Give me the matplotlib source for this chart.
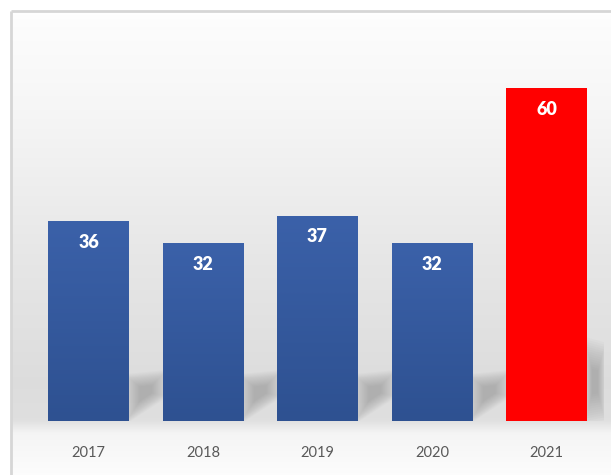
import numpy as np
import matplotlib
matplotlib.use("Agg")
import matplotlib.pyplot as plt
from matplotlib.patches import Polygon, Rectangle

# Data
years = ["2017", "2018", "2019", "2020", "2021"]
values = [36, 32, 37, 32, 60]
bar_colors = ["blue", "blue", "blue", "blue", "red"]

W, H = 611, 475
fig = plt.figure(figsize=(W / 100, H / 100), dpi=100)

# Background panel (pixel coordinates)
bg = fig.add_axes([0, 0, 1, 1])
bg.set_xlim(0, W)
bg.set_ylim(H, 0)
bg.axis("off")

ys = np.arange(H)
stops_y = [0, 10, 100, 250, 380, 418, 432, 475]
stops_v = [1.0, 0.99, 0.965, 0.905, 0.865, 0.875, 0.96, 0.99]
col = np.interp(ys, stops_y, stops_v)
grad = np.repeat(col[:, None], 2, axis=1)
bg.imshow(grad[:, :, None].repeat(3, axis=2), extent=[11, W, H, 11],
          aspect="auto", interpolation="bilinear", zorder=0)
bg.plot([11, 11], [H, 11], color="#d6d6d6", lw=2, zorder=1, solid_capstyle="butt")
bg.plot([11, W], [11, 11], color="#d6d6d6", lw=2, zorder=1, solid_capstyle="butt")

# Data axes
ax = fig.add_axes([31.25 / W, 54 / H, 572.5 / W, 388.5 / H])
ax.patch.set_alpha(0)
for s in ax.spines.values():
    s.set_visible(False)
ax.set_yticks([])
ax.set_xticks(range(len(years)))
ax.set_xticklabels(years, fontsize=10.5, color="#595959", family=["Lato", "DejaVu Sans"])
ax.tick_params(axis="x", length=0, pad=18)

bw = 0.707
x = np.arange(len(values))

# Soft shadows behind the bars
def soft_poly(pts, color, layers=14, alpha=0.04, spread=1.0):
    pts = np.array(pts, dtype=float)
    c = pts.mean(axis=0)
    for k in range(layers):
        f = 1.3 - k * (spread / layers)
        p = c + (pts - c) * f
        ax.add_patch(Polygon(p, closed=True, facecolor=color, edgecolor="none",
                             alpha=alpha, zorder=1))

for i in range(len(values) - 1):
    xl = x[i] + bw / 2
    xr = x[i + 1] - bw / 2
    soft_poly([(xl, 0.6), (xl, 7.7), (xr, 8.3), (xr, 4.6)], "#808080")
xl = x[-1] + bw / 2
soft_poly([(xl, 1.0), (xl, 13.3), (xl + 0.14, 12.5), (xl + 0.14, 1.5)], "#808080")

# Bars with vertical gradient
bars = ax.bar(x, values, width=bw, color="none", edgecolor="none", zorder=2)
t = np.linspace(0, 1, 100)[:, None, None]
top = np.array([0x3b, 0x61, 0xa9]) / 255
bot = np.array([0x2e, 0x51, 0x91]) / 255
img = top[None, None, :] * (1 - t) + bot[None, None, :] * t
for b, c in zip(bars, bar_colors):
    x0, y0 = b.get_x(), b.get_y()
    h = b.get_height()
    if c == "red":
        ax.add_patch(Rectangle((x0, y0), bw, h, facecolor="#ff0000", edgecolor="none", zorder=3))
    else:
        im = ax.imshow(img, extent=[x0, x0 + bw, y0, y0 + h], aspect="auto",
                       interpolation="bilinear", zorder=3)
        rect = Rectangle((x0, y0), bw, h, transform=ax.transData, facecolor="none", edgecolor="none")
        ax.add_patch(rect)
        im.set_clip_path(rect)

ax.set_xlim(-0.5, 4.5)
ax.set_ylim(0, 70)

# Value labels
for xi, v in zip(x, values):
    ax.text(xi, v - 3.8, str(v), ha="center", va="center", color="white",
            fontsize=13, fontweight="heavy", family=["Lato", "DejaVu Sans"], zorder=4)

fig.savefig("out.png", dpi=100)
